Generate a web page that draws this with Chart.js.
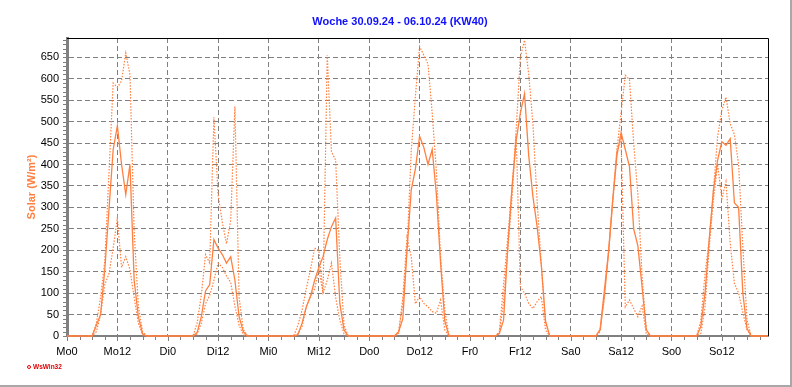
<!DOCTYPE html>
<html>
<head>
<meta charset="utf-8">
<script src="https://cdn.jsdelivr.net/npm/chart.js@4/dist/chart.umd.min.js"></script>
<style>
  html, body { margin: 0; padding: 0; background: #fff; }
  #frame { position: relative; width: 792px; height: 387px; box-sizing: border-box;
           border-right: 2px solid #a8a8a8; border-bottom: 2px solid #a8a8a8; }
  #chart { position: absolute; left: 0; top: 0; }
  #logo { position: absolute; left: 27px; top: 363px; color: #e00000;
          font: bold 6.5px "Liberation Sans", Arial, sans-serif; white-space: nowrap; }
  #logo span { display: inline-block; width: 2px; height: 2px; border: 1px solid #e00000;
               border-radius: 50%; margin-right: 2px; vertical-align: 0; }
</style>
</head>
<body>
<div id="frame">
  <canvas id="chart" width="792" height="387"></canvas>
  <div id="logo"><span></span>WsWin32</div>
</div>
<script>
// stündliche Werte, Mo 0 Uhr bis So 23 Uhr (eine Zeile pro Tag)
const solarLine = [
  0,0,0,0,0,0, 0,25,50,155,295,435,490,400,330,400,130,45,5,0, 0,0,0,0,
  0,0,0,0,0,0, 0,8,45,105,120,225,205,190,170,185,130,45,10,0, 0,0,0,0,
  0,0,0,0,0,0, 0,3,30,68,92,130,160,185,225,255,275,76,14,0, 0,0,0,0,
  0,0,0,0,0,0, 0,10,40,200,340,390,466,440,400,435,330,170,35,0, 0,0,0,0,
  0,0,0,0,0,0, 0,6,37,205,345,455,520,565,420,325,255,165,35,0, 0,0,0,0,
  0,0,0,0,0,0, 0,15,105,195,315,420,475,435,395,250,210,115,15,0, 0,0,0,0,
  0,0,0,0,0,0, 0,22,100,225,340,410,453,445,460,310,300,100,18,0, 0,0,0,0
];
const solarDotHigh = [
  0,0,0,0,0,0, 0,30,90,175,380,590,580,595,660,610,245,70,10,0, 0,0,0,0,
  0,0,0,0,0,0, 0,30,95,190,170,510,330,265,215,270,535,90,15,0, 0,0,0,0,
  0,0,0,0,0,0, 0,25,60,110,155,205,200,100,655,430,410,180,25,0, 0,0,0,0,
  0,0,0,0,0,0, 0,10,75,200,430,560,675,655,635,520,385,185,60,0, 0,0,0,0,
  0,0,0,0,0,0, 0,10,120,230,340,480,650,690,610,495,315,165,30,0, 0,0,0,0,
  0,0,0,0,0,0, 0,15,85,195,320,435,520,608,598,450,330,140,15,0, 0,0,0,0,
  0,0,0,0,0,0, 0,35,145,225,340,465,527,557,495,470,400,210,37,0, 0,0,0,0
];
const solarDotLow = [
  0,0,0,0,0,0, 0,10,50,120,145,205,275,160,185,155,90,30,3,0, 0,0,0,0,
  0,0,0,0,0,0, 0,5,30,75,95,130,170,160,140,125,70,25,3,0, 0,0,0,0,
  0,0,0,0,0,0, 0,5,22,68,92,110,155,100,130,170,90,37,5,0, 0,0,0,0,
  0,0,0,0,0,0, 0,5,90,230,185,75,92,76,68,57,53,84,14,0, 0,0,0,0,
  0,0,0,0,0,0, 0,5,80,200,320,470,115,100,76,64,80,92,14,0, 0,0,0,0,
  0,0,0,0,0,0, 0,10,90,190,310,430,460,68,84,64,45,70,5,0, 0,0,0,0,
  0,0,0,0,0,0, 0,6,68,208,317,400,320,360,216,123,100,55,14,0, 0,0,0,0
];
const tickLabels = ['Mo0','Mo12','Di0','Di12','Mi0','Mi12','Do0','Do12',
                    'Fr0','Fr12','Sa0','Sa12','So0','So12'];
const yTickValues = [0,50,100,150,200,250,300,350,400,450,500,550,600,650];
const chartTitle = 'Woche 30.09.24 - 06.10.24 (KW40)';
const yTitle = 'Solar (W/m²)';

const ORANGE = '#ff8040';
const GRID = '#808080';
const FONT = '"Liberation Sans", Arial, sans-serif';

const toPoints = arr => arr.map((v, i) => ({ x: i, y: v }));

/* --------- Titel, Rahmen, kleine Teilstriche --------- */
const decorPlugin = {
  id: 'decor',
  afterDraw(chart) {
    const { ctx, chartArea: a, scales: { x, y } } = chart;
    ctx.save();
    ctx.strokeStyle = GRID;
    ctx.lineWidth = 1;
    ctx.beginPath();
    for (let v = 0; v <= 690; v += 10) {
      const py = Math.round(y.getPixelForValue(v)) + 0.5;
      ctx.moveTo(a.left - 4, py);
      ctx.lineTo(a.left, py);
    }
    for (let h = 0; h <= 167; h += 3) {
      const px = Math.round(x.getPixelForValue(h)) + 0.5;
      ctx.moveTo(px, a.bottom + 1);
      ctx.lineTo(px, a.bottom + (h % 12 === 0 ? 5 : 4));
    }
    ctx.stroke();

    ctx.strokeStyle = '#000';
    ctx.beginPath();
    ctx.moveTo(a.left, Math.round(a.top) + 0.5);
    ctx.lineTo(Math.round(a.right) + 0.5, Math.round(a.top) + 0.5);
    ctx.lineTo(Math.round(a.right) + 0.5, a.bottom);
    ctx.stroke();

    ctx.fillStyle = '#1010ff';
    ctx.font = 'bold 11px ' + FONT;
    ctx.textAlign = 'center';
    ctx.textBaseline = 'middle';
    ctx.fillText(chartTitle, 400, 22);
    ctx.restore();
  }
};

new Chart(document.getElementById('chart'), {
  type: 'line',
  data: {
    datasets: [
      { label: 'Solar', data: toPoints(solarLine), borderColor: ORANGE,
        borderWidth: 1.3, pointRadius: 0, tension: 0, clip: false },
      { label: 'Solar max', data: toPoints(solarDotHigh), borderColor: ORANGE,
        borderWidth: 1.2, borderDash: [1.5, 1.5], pointRadius: 0, tension: 0, clip: false },
      { label: 'Solar min', data: toPoints(solarDotLow), borderColor: ORANGE,
        borderWidth: 1.2, borderDash: [1.5, 1.5], pointRadius: 0, tension: 0, clip: false }
    ]
  },
  options: {
    responsive: false,
    animation: false,
    events: [],
    layout: { padding: { top: 38, right: 24, bottom: 0, left: 0 } },
    plugins: { legend: { display: false }, title: { display: false }, tooltip: { enabled: false } },
    scales: {
      x: {
        type: 'linear', min: 0, max: 167,
        afterBuildTicks: ax => { ax.ticks = tickLabels.map((_, i) => ({ value: i * 12 })); },
        afterFit: s => { s.height = 51; },
        ticks: {
          autoSkip: false, maxRotation: 0, padding: 9, color: '#000',
          font: { family: FONT, size: 11 },
          callback: v => tickLabels[v / 12]
        },
        grid: { color: GRID, lineWidth: 1, drawTicks: false },
        border: { color: GRID, width: 2, dash: [5, 3] }
      },
      y: {
        min: 0, max: 695,
        afterBuildTicks: ax => { ax.ticks = yTickValues.map(v => ({ value: v })); },
        afterFit: s => { s.width = 67; },
        ticks: { padding: 8, color: '#000', font: { family: FONT, size: 11 } },
        grid: { color: GRID, lineWidth: 1, drawTicks: false },
        border: { color: GRID, width: 3, dash: [5, 3] },
        title: {
          display: true, text: yTitle, color: ORANGE,
          font: { family: FONT, size: 11, weight: 'bold' },
          padding: { top: 25, bottom: 0 }
        }
      }
    }
  },
  plugins: [decorPlugin]
});
</script>
</body>
</html>
